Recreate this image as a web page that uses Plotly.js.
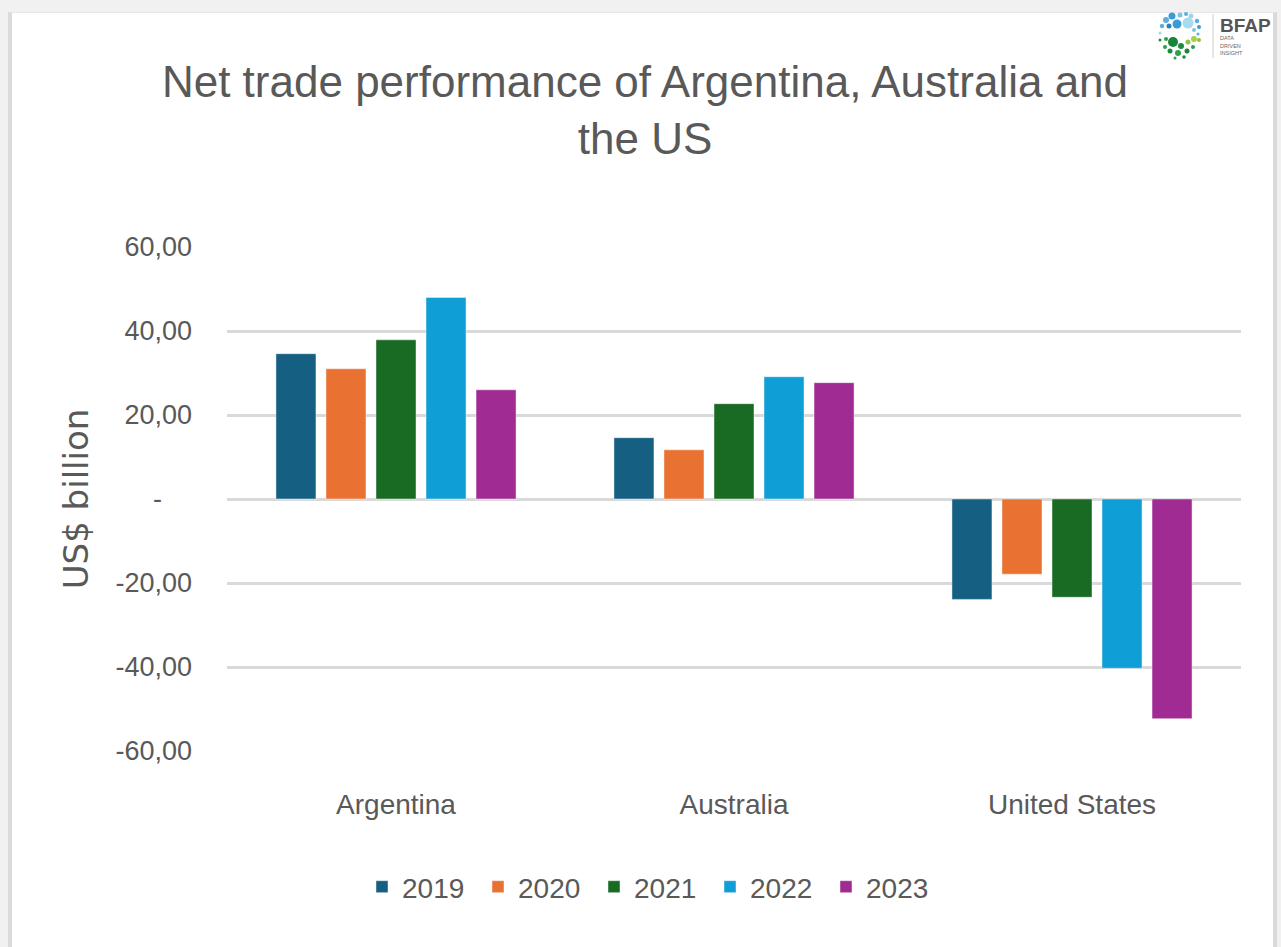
<!DOCTYPE html>
<html>
<head>
<meta charset="utf-8">
<script src="https://cdn.plot.ly/plotly-3.0.1.min.js"></script>
<style>
  html, body { margin: 0; padding: 0; width: 1281px; height: 947px; overflow: hidden; background: #f1f1f1; }
  #frame { position: absolute; left: 8px; top: 12px; width: 1261px; height: 940px; background: #ffffff;
           border-left: 4px solid #dadada; border-right: 4px solid #dadada; border-top: 1px solid #e6e6e6; }
  #chart { position: absolute; left: 0; top: 0; width: 1281px; height: 947px; }
  #logo { position: absolute; left: 1150px; top: 6px; width: 125px; height: 60px; }
</style>
</head>
<body>
<div id="frame"></div>
<div id="chart"></div>
<svg id="logo" viewBox="0 0 125 60" xmlns="http://www.w3.org/2000/svg">
  <g>
    <circle cx="16" cy="14" r="3" fill="#5aaee0"/>
    <circle cx="22" cy="10" r="3.5" fill="#3a9bd6"/>
    <circle cx="30" cy="9" r="2.5" fill="#7cc3ea"/>
    <circle cx="36" cy="8" r="2" fill="#5aaee0"/>
    <circle cx="41" cy="10" r="2.5" fill="#9fd3ee"/>
    <circle cx="12" cy="20" r="2.2" fill="#5aaee0"/>
    <circle cx="19" cy="20" r="2.5" fill="#2b7fc0"/>
    <circle cx="27" cy="18" r="4.5" fill="#3a9bd6"/>
    <circle cx="38" cy="17" r="5.5" fill="#a8dbee"/>
    <circle cx="47" cy="15" r="2.2" fill="#5aaee0"/>
    <circle cx="49" cy="21" r="2" fill="#3a9bd6"/>
    <circle cx="44" cy="24" r="2" fill="#7cc3ea"/>
    <circle cx="10" cy="27" r="1.5" fill="#9fd3ee"/>
    <circle cx="48" cy="28" r="1.5" fill="#5aaee0"/>
    <circle cx="10" cy="34" r="1.5" fill="#1e8c3c"/>
    <circle cx="16" cy="33" r="2" fill="#2aa14a"/>
    <circle cx="23" cy="36" r="5" fill="#17853a"/>
    <circle cx="31" cy="40" r="3" fill="#1e8c3c"/>
    <circle cx="38" cy="36" r="2.5" fill="#8cc63f"/>
    <circle cx="44" cy="33" r="3" fill="#a5d04a"/>
    <circle cx="49" cy="34" r="2" fill="#8cc63f"/>
    <circle cx="15" cy="41" r="2" fill="#2aa14a"/>
    <circle cx="20" cy="45" r="2.5" fill="#1e8c3c"/>
    <circle cx="28" cy="47" r="3" fill="#2aa14a"/>
    <circle cx="37" cy="45" r="2.5" fill="#17853a"/>
    <circle cx="43" cy="41" r="2" fill="#2aa14a"/>
    <circle cx="34" cy="51" r="1.8" fill="#1e8c3c"/>
    <circle cx="25" cy="52" r="1.5" fill="#2aa14a"/>
  </g>
  <line x1="63" y1="8" x2="63" y2="52" stroke="#cfcfcf" stroke-width="1"/>
  <text x="70" y="26" font-family="Liberation Sans, Arial, sans-serif" font-size="19" font-weight="bold" fill="#555555">BFAP</text>
  <text x="70" y="34" font-family="Liberation Sans, Arial, sans-serif" font-size="5.5" fill="#666666">DATA</text>
  <text x="70" y="41.5" font-family="Liberation Sans, Arial, sans-serif" font-size="5.5" fill="#666666">DRIVEN</text>
  <text x="70" y="49" font-family="Liberation Sans, Arial, sans-serif" font-size="5.5" fill="#666666">INSIGHT</text>
</svg>
<script>
// ---- data ----
const countries = ["Argentina", "Australia", "United States"];
const years = ["2019", "2020", "2021", "2022", "2023"];
const v2019 = [34.6, 14.6, -23.9];
const v2020 = [31.0, 11.7, -17.9];
const v2021 = [37.9, 22.7, -23.4];
const v2022 = [48.0, 29.1, -40.3];
const v2023 = [26.0, 27.7, -52.3];
const tickValues = [-60, -40, -20, 0, 20, 40, 60];
const tickLabels = ["-60,00", "-40,00", "-20,00", "-\u00a0\u00a0\u00a0\u00a0", "20,00", "40,00", "60,00"];

const seriesValues = [v2019, v2020, v2021, v2022, v2023];
const colors = ["#156082", "#E97132", "#196B24", "#0F9ED5", "#A02B93"];

const traces = years.map((y, i) => ({
  type: "bar",
  name: y,
  x: countries,
  y: seriesValues[i],
  marker: { color: colors[i], line: { color: "rgba(255,255,255,0.45)", width: 1 } },
  hoverinfo: "x+y+name"
}));

const grey = "#595959";
const layout = {
  width: 1281,
  height: 947,
  paper_bgcolor: "rgba(0,0,0,0)",
  plot_bgcolor: "rgba(0,0,0,0)",
  margin: { l: 227, r: 40, t: 247, b: 196 },
  barmode: "group",
  bargap: 0.26,
  bargroupgap: 0.2,
  showlegend: true,
  title: {
    text: "Net trade performance of Argentina, Australia and<br>the US",
    font: { family: "Liberation Sans, Arial, sans-serif", size: 44, color: grey },
    x: 645 / 1281,
    xanchor: "center",
    xref: "container",
    y: 1 - 97 / 947,
    yanchor: "top",
    yref: "container"
  },
  xaxis: {
    type: "category",
    range: [-0.5, 2.5],
    showgrid: false,
    zeroline: false,
    showline: false,
    ticks: "",
    ticklabelstandoff: 34,
    tickfont: { family: "Liberation Sans, Arial, sans-serif", size: 28, color: grey },
    fixedrange: true
  },
  yaxis: {
    range: [-60, 60],
    tickvals: tickValues,
    ticktext: tickLabels,
    showgrid: true,
    gridcolor: "#d9d9d9",
    gridwidth: 3,
    zeroline: true,
    zerolinecolor: "#d9d9d9",
    zerolinewidth: 3,
    showline: false,
    ticks: "",
    ticklabelstandoff: 34,
    tickfont: { family: "Liberation Sans, Arial, sans-serif", size: 27, color: grey },
    title: {
      text: "US$ billion",
      font: { family: "DejaVu Sans, sans-serif", size: 34, color: grey },
      standoff: 16
    },
    automargin: false,
    fixedrange: true
  },
  legend: {
    orientation: "h",
    x: (362 - 227) / 1014,
    xanchor: "left",
    y: (751 - 887) / 504,
    yanchor: "middle",
    entrywidth: 71,
    entrywidthmode: "pixels",
    font: { family: "Liberation Sans, Arial, sans-serif", size: 28, color: grey },
    itemclick: false,
    itemdoubleclick: false
  }
};

Plotly.newPlot("chart", traces, layout, { displayModeBar: false, staticPlot: true });
</script>
</body>
</html>
